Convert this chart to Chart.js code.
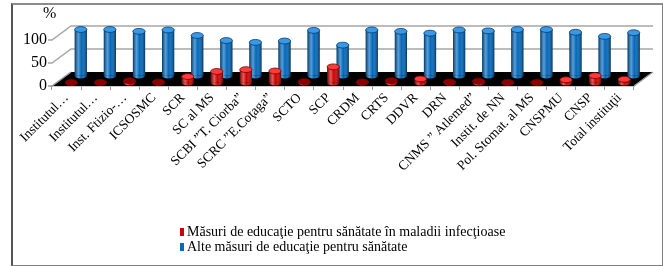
<!DOCTYPE html>
<html>
<head>
<meta charset="utf-8">
<script src="https://cdn.jsdelivr.net/npm/chart.js@4.4.1/dist/chart.umd.min.js"></script>
<style>
  body { margin: 0; background: #fff; font-family: "Liberation Serif", "Times New Roman", serif; }
  #wrap { position: relative; width: 669px; height: 266px; }
  #frame { position: absolute; left: 11px; top: 3px; width: 649px; height: 260px; border: 1px solid #7f7f7f; border-top: 2px solid #8c8c8c; border-left: 2px solid #555; }
  canvas { position: absolute; left: 0; top: 0; }
  #pct { position: absolute; left: 43px; top: 4px; font-size: 16px; }
  #legend { position: absolute; left: 180px; top: 224px; font-size: 14px; line-height: 15px; }
  .li { display: flex; align-items: center; white-space: nowrap; }
  .sw { width: 4px; height: 8px; margin-right: 3px; }
</style>
</head>
<body>
<div id="wrap">
  <div id="frame"></div>
  <canvas id="chart" width="669" height="266"></canvas>
  <div id="pct">%</div>
  <div id="legend"></div>
</div>
<script>
// date (%)
const categories = ["Institutul…", "Institutul…", "Inst. Ftizio-…", "ICSOSMC", "SCR", "SC al MS",
  "SCBI ”T. Ciorba”", "SCRC ”E.Coţaga”", "SCTO", "SCP", "CRDM", "CRTS", "DDVR", "DRN",
  "CNMS ” Atlemed”", "Instit. de NN", "Pol. Stomat. al MS", "CNSPMU", "CNSP", "Total instituţii"];
const infectioase = [0, 0, 4, 1, 13, 24, 28, 25, 2, 34, 1, 4, 8, 1, 3, 0, 0, 6, 15, 7];
const alte = [100, 100, 96, 99, 87, 76, 72, 75, 98, 66, 99, 96, 92, 99, 97, 100, 100, 94, 85, 93];
const yTicks = [0, 50, 100];

// efect 3D: podea neagra, pereti cu grila, cilindri
const DX = 19, DY = -14;
const depth = [0.25, 0.75];
const topColors = ['#ff3a3a', '#3b98e4'];
const flatColors = ['#8a0000', '#00407a'];
const rimColors = ['#7a0000', '#003c75'];

const cylinders = {
  id: 'cylinders',
  beforeDatasetsDraw(chart) {
    const { ctx, scales: { x, y } } = chart;
    const l = x.left, r = x.right, y0 = y.getPixelForValue(0);
    ctx.save();
    ctx.strokeStyle = '#a6a6a6';
    ctx.lineWidth = 1.5;
    yTicks.forEach(v => {
      if (v === 0) return;
      const py = y.getPixelForValue(v);
      ctx.beginPath();
      ctx.moveTo(l - 4, py);
      ctx.lineTo(l, py);
      ctx.lineTo(l + DX, py + DY);
      ctx.lineTo(r + DX, py + DY);
      ctx.stroke();
    });
    // podeaua
    ctx.fillStyle = '#000';
    ctx.beginPath();
    ctx.moveTo(l, y0);
    ctx.lineTo(r, y0);
    ctx.lineTo(r + DX, y0 + DY);
    ctx.lineTo(l + DX, y0 + DY);
    ctx.closePath();
    ctx.fill();
    ctx.strokeStyle = '#9a9a9a';
    ctx.lineWidth = 1.5;
    ctx.beginPath();
    ctx.moveTo(l - 4, y0);
    ctx.lineTo(l, y0);
    ctx.lineTo(l + DX, y0 + DY);
    ctx.moveTo(r, y0);
    ctx.lineTo(r + DX, y0 + DY);
    ctx.stroke();
    ctx.restore();
  },
  beforeDatasetDraw(chart, args) {
    const d = depth[args.index];
    chart.ctx.save();
    chart.ctx.translate(DX * d, DY * d);
  },
  afterDatasetDraw(chart, args) {
    const ctx = chart.ctx;
    const i = args.index;
    const base = chart.data.datasets[i].backgroundColor;
    args.meta.data.forEach(el => {
      const { x, y, base: b, width: w } = el.getProps(['x', 'y', 'base', 'width'], true);
      const x0 = x - w / 2, ry = w * 0.24;
      const g = ctx.createLinearGradient(x0, 0, x0 + w, 0);
      g.addColorStop(0, 'rgba(0,0,0,0.45)');
      g.addColorStop(0.3, 'rgba(255,255,255,0.35)');
      g.addColorStop(0.55, 'rgba(255,255,255,0)');
      g.addColorStop(1, 'rgba(0,0,0,0.5)');
      // fundul rotunjit
      ctx.fillStyle = base;
      ctx.beginPath();
      ctx.ellipse(x, b, w / 2, ry, 0, 0, Math.PI);
      ctx.fill();
      ctx.fillStyle = g;
      ctx.fill();
      if (b - y > 0.5) {
        ctx.fillRect(x0, y, w, b - y);
      }
      // capacul
      ctx.fillStyle = (b - y > 2) ? topColors[i] : flatColors[i];
      ctx.strokeStyle = rimColors[i];
      ctx.lineWidth = 0.8;
      ctx.beginPath();
      ctx.ellipse(x, y, w / 2, ry, 0, 0, Math.PI * 2);
      ctx.fill();
      ctx.stroke();
    });
    ctx.restore();
  }
};

const chart = new Chart(document.getElementById('chart'), {
  type: 'bar',
  data: {
    labels: categories,
    datasets: [
      { label: 'Măsuri de educaţie pentru sănătate în maladii infecţioase', data: infectioase,
        backgroundColor: '#d00000', clip: false },
      { label: 'Alte măsuri de educaţie pentru sănătate', data: alte,
        backgroundColor: '#0068bd', clip: false }
    ]
  },
  options: {
    responsive: false,
    animation: false,
    datasets: { bar: { grouped: false, barPercentage: 0.42, categoryPercentage: 1 } },
    layout: { padding: { left: 0, right: 35, top: 40, bottom: 80 } },
    plugins: { legend: { display: false }, tooltip: { enabled: false } },
    scales: {
      x: {
        afterFit: s => { s.height = 100; },
        grid: { drawOnChartArea: false, drawTicks: true, tickLength: 4, color: '#9a9a9a', offset: true },
        border: { display: true, color: '#9a9a9a', width: 1.5 },
        ticks: {
          autoSkip: false, minRotation: 45, maxRotation: 45, padding: 0, color: '#000',
          font: { family: 'Liberation Serif', size: 13.5 }
        }
      },
      y: {
        min: 0, max: 100,
        afterFit: s => { s.width = 52; },
        afterBuildTicks: s => { s.ticks = yTicks.map(v => ({ value: v })); },
        grid: { display: false, drawTicks: false },
        border: { display: false },
        ticks: { padding: 5, color: '#000', font: { family: 'Liberation Serif', size: 16 } }
      }
    }
  },
  plugins: [cylinders]
});

// legenda pe doua randuri
const legend = document.getElementById('legend');
chart.data.datasets.forEach(ds => {
  const row = document.createElement('div');
  row.className = 'li';
  row.innerHTML = '<span class="sw" style="background:' + ds.backgroundColor + '"></span><span>' + ds.label + '</span>';
  legend.appendChild(row);
});
</script>
</body>
</html>
